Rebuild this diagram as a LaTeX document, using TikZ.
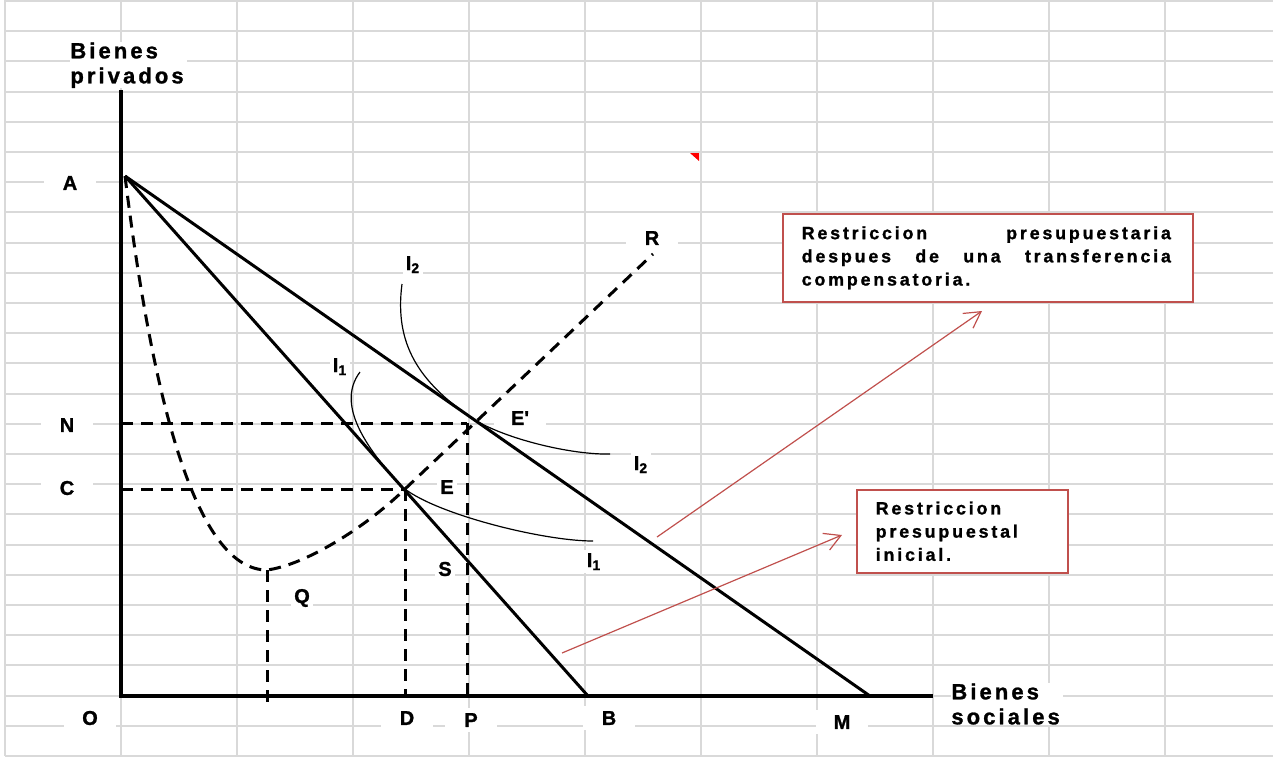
\documentclass[tikz,border=0pt]{standalone}
\usepackage{fontspec}
\setmainfont{Liberation Sans}[BoldFont={Liberation Sans Bold},BoldFeatures={FakeBold=1.2}]
\usetikzlibrary{arrows.meta}
\definecolor{cellgray}{HTML}{D9D9D9}
\definecolor{notered}{HTML}{C0504D}
\makeatletter
\newcommand\trk[2][0.14em]{\@tfor\trkch:=#2\do{\trkch\kern#1}}
\makeatother

\begin{document}
\begin{tikzpicture}[x=0.5pt,y=-0.5pt,
  gridline/.style={draw=cellgray,line width=1pt},
  axis/.style={draw,line width=2pt},
  budget/.style={draw,line width=1.5pt},
  guide/.style={draw,line width=1.5pt,dash pattern=on 6pt off 4pt},
  indiff/.style={draw,line width=0.6pt},
  lbl/.style={fill=white,inner sep=1.5pt,font=\fontsize{10}{12}\selectfont\bfseries},
  cell/.style={lbl,minimum width=26pt,minimum height=12pt},
  axlbl/.style={fill=white,inner sep=0pt,anchor=north west,align=left,font=\fontsize{11}{12.5}\selectfont\bfseries},
  note/.style={draw=notered,line width=0.75pt,fill=white,anchor=north west,align=left,inner xsep=9.5pt,font=\fontsize{8.9}{11.6}\selectfont\bfseries},
  pointer/.style={draw=notered,line width=0.6pt,-{Straight Barb[length=8pt,width=9pt]}}]
  \useasboundingbox (0,0) rectangle (1273,756);

  % Grid
  \foreach \k in {0,...,10} \path[gridline] (5+116*\k,0) -- (5+116*\k,756);
  \foreach \k in {0,...,25} \path[gridline] (5,1+30.2*\k) -- (1273,1+30.2*\k);
  \path[fill=red] (690,153) -- (699,153) -- (699,161) -- cycle;

  % Points
  \coordinate (O) at (121,696);
  \coordinate (ytop) at (121,90);
  \coordinate (xend) at (933,696);
  \coordinate (A) at (125,176);
  \coordinate (B) at (588,696);
  \coordinate (M) at (870,696);
  \coordinate (E) at (405,489);
  \coordinate (Ep) at (467,423);
  \coordinate (Q) at (267,570);
  \coordinate (Qf) at (267,702);
  \coordinate (R) at (653,254);
  \coordinate (T1) at (398,482.8);
  \coordinate (T2) at (470,416.8);
  \coordinate (i1s) at (360,372);
  \coordinate (i1e) at (593,541);
  \coordinate (i2s) at (402,284);
  \coordinate (i2e) at (610,454);

  % Labels
  \node[axlbl] (ylab) at (70,42) {\trk{Bienes}\\\trk{privados}};
  \node[axlbl] (xlab) at (951,683) {\trk{Bienes}\\\trk{sociales}};
  \node[cell] (labA) at (70,183) {A};
  \node[cell] (labN) at (67,425) {N};
  \node[cell] (labC) at (67,488) {C};
  \node[cell] (labO) at (90,718) {O};
  \node[cell] (labD) at (407,718) {D};
  \node[cell] (labP) at (471,720) {P};
  \node[cell] (labB) at (609,718) {B};
  \node[cell] (labM) at (842,722) {M};
  \node[lbl] (labQ) at (302,598) {Q};
  \node[lbl] (labS) at (445,569) {S};
  \node[lbl] (labE) at (447,487) {E};
  \node[cell] (labEp) at (520,418) {E\textquotesingle};
  \node[cell] (labR) at (652,238) {R};
  \node[lbl,anchor=base] (labIa) at (413,270) {I\textsubscript{2}};
  \node[lbl,anchor=base] (labIb) at (641,470) {I\textsubscript{2}};
  \node[lbl,anchor=base] (labIc) at (340,372) {I\textsubscript{1}};
  \node[lbl,anchor=base] (labId) at (594,567) {I\textsubscript{1}};

  % Guides
  \path[guide] (O |- Ep) -- (Ep);
  \path[guide] (O |- E) -- (E);
  \path[guide] (E) -- (E |- O);
  \path[guide] (Ep) -- (Ep |- O);
  \path[guide] (Q) -- (Qf);
  \path[guide] (A) .. controls (155,420) and (200,570) .. (Q) .. controls (305,565) and (365,528) .. (E) -- (R);

  % Budget lines and curves
  \path[budget] (A) -- (B);
  \path[budget] (A) -- (M);
  \path[indiff] (i1s) .. controls (335,405) and (368,449) .. (T1) .. controls (423,511) and (540,541) .. (i1e);
  \path[indiff] (i2s) .. controls (394,345) and (420,382) .. (T2) .. controls (500,437.7) and (570,455) .. (i2e);

  % Axes
  \path[axis] (ytop) -- (O) -- (xend);

  % Notes
  \node[note,text width=186pt,minimum height=44pt] (noteM) at (782,213) {\makebox[186pt][l]{\trk[0.16em]{Restriccion}\hfill\trk[0.16em]{presupuestaria}}\\\makebox[186pt][l]{\trk[0.16em]{despues}\hfill\trk[0.16em]{de}\hfill\trk[0.16em]{una}\hfill\trk[0.16em]{transferencia}}\\\trk[0.16em]{compensatoria.}};
  \node[note,text width=86.5pt,minimum height=41.5pt] (noteB) at (856,489) {\trk[0.16em]{Restriccion}\\\trk[0.16em]{presupuestal}\\\trk[0.16em]{inicial.}};
  \coordinate (p1s) at (657,537);
  \coordinate (p1e) at (982,311);
  \coordinate (p2s) at (562,653);
  \coordinate (p2e) at (842,535);
  \path[pointer] (p1s) -- (p1e);
  \path[pointer] (p2s) -- (p2e);
\end{tikzpicture}
\end{document}
